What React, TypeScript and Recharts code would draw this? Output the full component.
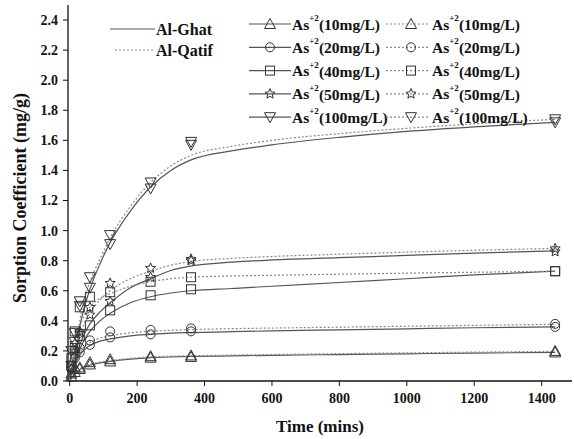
import {
  ComposedChart,
  Line,
  Scatter,
  XAxis,
  YAxis,
  Legend,
} from 'recharts';

// time axis of the fitted curves (mins)
const curveTimes = [0, 10, 20, 30, 45, 60, 90, 120, 180, 240, 300, 360, 480, 600, 800, 1000, 1200, 1440];

// fitted curves, Al-Ghat (solid) and Al-Qatif (dotted)
const ghatCurve10 = [0, 0.03, 0.055, 0.075, 0.095, 0.105, 0.12, 0.13, 0.145, 0.155, 0.16, 0.163, 0.167, 0.171, 0.176, 0.181, 0.186, 0.19];
const qatifCurve10 = [0, 0.035, 0.06, 0.08, 0.1, 0.11, 0.125, 0.135, 0.15, 0.16, 0.165, 0.168, 0.172, 0.176, 0.182, 0.187, 0.192, 0.197];
const ghatCurve20 = [0, 0.07, 0.13, 0.17, 0.21, 0.235, 0.265, 0.28, 0.3, 0.31, 0.318, 0.322, 0.328, 0.333, 0.34, 0.347, 0.354, 0.36];
const qatifCurve20 = [0, 0.08, 0.15, 0.19, 0.23, 0.255, 0.285, 0.3, 0.32, 0.33, 0.337, 0.342, 0.348, 0.352, 0.358, 0.364, 0.37, 0.377];
const ghatCurve40 = [0, 0.08, 0.15, 0.21, 0.28, 0.33, 0.4, 0.45, 0.52, 0.56, 0.585, 0.6, 0.615, 0.63, 0.655, 0.68, 0.705, 0.73];
const qatifCurve40 = [0, 0.15, 0.27, 0.36, 0.44, 0.49, 0.55, 0.58, 0.63, 0.66, 0.68, 0.69, 0.698, 0.703, 0.71, 0.717, 0.723, 0.73];
const ghatCurve50 = [0, 0.09, 0.17, 0.24, 0.32, 0.38, 0.46, 0.52, 0.62, 0.68, 0.735, 0.765, 0.79, 0.805, 0.82, 0.835, 0.85, 0.865];
const qatifCurve50 = [0, 0.12, 0.22, 0.3, 0.39, 0.45, 0.54, 0.6, 0.68, 0.73, 0.77, 0.795, 0.815, 0.828, 0.843, 0.857, 0.869, 0.882];
const ghatCurve100 = [0, 0.1, 0.2, 0.36, 0.5, 0.61, 0.78, 0.92, 1.13, 1.29, 1.4, 1.47, 1.53, 1.57, 1.62, 1.66, 1.69, 1.72];
const qatifCurve100 = [0, 0.11, 0.22, 0.4, 0.55, 0.66, 0.81, 0.95, 1.16, 1.32, 1.43, 1.5, 1.56, 1.6, 1.645, 1.68, 1.71, 1.74];

// measured points
const pointTimes = [5, 15, 30, 60, 120, 240, 360, 1440];
const ghatPoints10 = [0.03, 0.06, 0.08, 0.11, 0.13, 0.155, 0.16, 0.19];
const qatifPoints10 = [0.05, 0.09, 0.09, 0.125, 0.145, 0.165, 0.17, 0.2];
const ghatPoints20 = [0.08, 0.15, 0.19, 0.24, 0.29, 0.31, 0.33, 0.36];
const qatifPoints20 = [0.1, 0.18, 0.22, 0.27, 0.33, 0.34, 0.35, 0.38];
const ghatPoints40 = [0.1, 0.22, 0.3, 0.37, 0.47, 0.57, 0.61, 0.73];
const qatifPoints40 = [0.15, 0.33, 0.49, 0.56, 0.59, 0.66, 0.69, 0.73];
const ghatPoints50 = [0.08, 0.2, 0.32, 0.44, 0.53, 0.69, 0.8, 0.86];
const qatifPoints50 = [0.12, 0.25, 0.33, 0.49, 0.65, 0.75, 0.81, 0.88];
const ghatPoints100 = [0.1, 0.26, 0.5, 0.62, 0.91, 1.28, 1.57, 1.72];
const qatifPoints100 = [0.2, 0.32, 0.53, 0.69, 0.97, 1.32, 1.59, 1.74];

const concentrations = ['10', '20', '40', '50', '100'];
const markerKinds = ['triUp', 'circle', 'square', 'star', 'triDown'];
const siteNames = ['Al-Ghat', 'Al-Qatif'];

const yTicks = [0, 0.2, 0.4, 0.6, 0.8, 1.0, 1.2, 1.4, 1.6, 1.8, 2.0, 2.2, 2.4];
const yMinorTicks = [0.1, 0.3, 0.5, 0.7, 0.9, 1.1, 1.3, 1.5, 1.7, 1.9, 2.1, 2.3];
const xTicks = [0, 200, 400, 600, 800, 1000, 1200, 1400];
const xMinorTicks = [100, 300, 500, 700, 900, 1100, 1300];

const ghatCurves = [ghatCurve10, ghatCurve20, ghatCurve40, ghatCurve50, ghatCurve100];
const qatifCurves = [qatifCurve10, qatifCurve20, qatifCurve40, qatifCurve50, qatifCurve100];
const ghatPoints = [ghatPoints10, ghatPoints20, ghatPoints40, ghatPoints50, ghatPoints100];
const qatifPoints = [qatifPoints10, qatifPoints20, qatifPoints40, qatifPoints50, qatifPoints100];

const curveRows = curveTimes.map((t, i) => {
  const row: Record<string, number> = { t };
  concentrations.forEach((c, k) => {
    row['g' + c] = ghatCurves[k][i];
    row['q' + c] = qatifCurves[k][i];
  });
  return row;
});

const toPoints = (vals: number[]) => pointTimes.map((t, i) => ({ t, v: vals[i] }));

const FONT = '"Liberation Serif", "Times New Roman", serif';
const INK = '#333';
const SOLID = '#555';
const DOTTED = '#888';

function Marker({ kind, cx, cy, s = 4.5 }: { kind: string; cx: number; cy: number; s?: number }) {
  const common = { fill: 'none', stroke: INK, strokeWidth: 1 };
  if (kind === 'circle') return <circle cx={cx} cy={cy} r={s} {...common} />;
  if (kind === 'square') return <rect x={cx - s} y={cy - s} width={s * 2} height={s * 2} {...common} />;
  if (kind === 'triUp')
    return <path d={`M${cx},${cy - s - 1}L${cx + s + 1},${cy + s}L${cx - s - 1},${cy + s}Z`} {...common} />;
  if (kind === 'triDown')
    return <path d={`M${cx},${cy + s + 1}L${cx + s + 1},${cy - s}L${cx - s - 1},${cy - s}Z`} {...common} />;
  // star
  let d = '';
  for (let i = 0; i < 10; i++) {
    const r = i % 2 === 0 ? s + 0.8 : (s + 0.8) * 0.45;
    const a = -Math.PI / 2 + (i * Math.PI) / 5;
    d += (i === 0 ? 'M' : 'L') + (cx + r * Math.cos(a)).toFixed(2) + ',' + (cy + r * Math.sin(a)).toFixed(2);
  }
  return <path d={d + 'Z'} {...common} />;
}

function AsLabel({ x, y, c }: { x: number; y: number; c: string }) {
  return (
    <text x={x} y={y} fontFamily={FONT} fontWeight="bold" fontSize={15.5} fill="#111" dominantBaseline="central">
      As
      <tspan dy={-6} fontSize={9}>+2</tspan>
      <tspan dy={6}>({c}mg/L)</tspan>
    </text>
  );
}

function LegendBox() {
  const rowY = (i: number) => 24 + i * 23.3;
  return (
    <svg width={574} height={135} style={{ display: 'block', pointerEvents: 'none' }}>
      <line x1={110} x2={155} y1={29} y2={29} stroke={SOLID} strokeWidth={1.2} />
      <text x={156} y={29} fontFamily={FONT} fontWeight="bold" fontSize={16} fill="#111" dominantBaseline="central">
        {siteNames[0]}
      </text>
      <line x1={115} x2={155} y1={50} y2={50} stroke={DOTTED} strokeWidth={1.2} strokeDasharray="2 2" />
      <text x={156} y={50} fontFamily={FONT} fontWeight="bold" fontSize={16} fill="#111" dominantBaseline="central">
        {siteNames[1]}
      </text>
      {concentrations.map((c, i) => (
        <g key={c}>
          <line x1={249} x2={291} y1={rowY(i)} y2={rowY(i)} stroke={SOLID} strokeWidth={1.2} />
          <Marker kind={markerKinds[i]} cx={270} cy={rowY(i)} />
          <AsLabel x={292} y={rowY(i)} c={c} />
          <line x1={386} x2={430} y1={rowY(i)} y2={rowY(i)} stroke={DOTTED} strokeWidth={1.2} strokeDasharray="2 2" />
          <Marker kind={markerKinds[i]} cx={411} cy={rowY(i)} />
          <AsLabel x={432} y={rowY(i)} c={c} />
        </g>
      ))}
    </svg>
  );
}

const tickStyle = { fontFamily: FONT, fontWeight: 'bold', fontSize: 14, fill: '#111' };

export default function App() {
  return (
    <div style={{ position: 'absolute', left: 0, top: 0, background: 'white' }}>
      <ComposedChart
        width={574}
        height={439}
        data={curveRows}
        margin={{ top: 5, right: 2, bottom: 0, left: 23 }}
      >
        <XAxis
          dataKey="t"
          type="number"
          domain={[-5, 1490]}
          ticks={xTicks}
          tickSize={5}
          tickMargin={7}
          tick={tickStyle}
          axisLine={{ stroke: '#111', strokeWidth: 1.3 }}
          tickLine={{ stroke: '#111' }}
          height={58}
          label={(p: any) => {
            const vb = p.viewBox;
            return (
              <text
                x={vb.x + vb.width / 2}
                y={426}
                textAnchor="middle"
                dominantBaseline="central"
                fontFamily={FONT}
                fontWeight="bold"
                fontSize={17}
                fill="#111"
              >
                Time (mins)
              </text>
            );
          }}
        />
        <XAxis
          xAxisId="minor"
          dataKey="t"
          type="number"
          domain={[-5, 1490]}
          ticks={xMinorTicks}
          tickSize={3}
          tick={false}
          axisLine={false}
          tickLine={{ stroke: '#111' }}
          height={0}
        />
        <XAxis
          xAxisId="top"
          orientation="top"
          type="number"
          domain={[-5, 1490]}
          tick={false}
          tickLine={false}
          axisLine={{ stroke: '#111', strokeWidth: 1.3 }}
          height={0}
        />
        <YAxis
          type="number"
          domain={[0, 2.5]}
          ticks={yTicks}
          tickFormatter={(v: number) => v.toFixed(1)}
          tickSize={5}
          tickMargin={5}
          tick={tickStyle}
          width={45}
          axisLine={{ stroke: '#111', strokeWidth: 1.3 }}
          tickLine={{ stroke: '#111' }}
          label={(p: any) => {
            const vb = p.viewBox;
            const cy = vb.y + vb.height / 2 + 5;
            return (
              <text
                x={20}
                y={cy}
                transform={`rotate(-90, 20, ${cy})`}
                textAnchor="middle"
                dominantBaseline="central"
                fontFamily={FONT}
                fontWeight="bold"
                fontSize={18}
                fill="#111"
              >
                Sorption Coefficient (mg/g)
              </text>
            );
          }}
        />
        <YAxis
          yAxisId="minor"
          type="number"
          domain={[0, 2.5]}
          ticks={yMinorTicks}
          tickSize={3}
          tick={false}
          axisLine={false}
          tickLine={{ stroke: '#111' }}
          width={0}
        />
        <YAxis
          yAxisId="right"
          orientation="right"
          type="number"
          domain={[0, 2.5]}
          tick={false}
          tickLine={false}
          axisLine={{ stroke: '#111', strokeWidth: 1.3 }}
          width={0}
        />
        {concentrations.map((c) => (
          <Line
            key={'g' + c}
            type="monotone"
            dataKey={'g' + c}
            stroke={SOLID}
            strokeWidth={1.2}
            dot={false}
            isAnimationActive={false}
          />
        ))}
        {concentrations.map((c) => (
          <Line
            key={'q' + c}
            type="monotone"
            dataKey={'q' + c}
            stroke={DOTTED}
            strokeWidth={1.2}
            strokeDasharray="2 2"
            dot={false}
            isAnimationActive={false}
          />
        ))}
        {concentrations.map((c, k) => (
          <Scatter
            key={'gp' + c}
            data={toPoints(ghatPoints[k])}
            dataKey="v"
            isAnimationActive={false}
            shape={(p: any) => <Marker kind={markerKinds[k]} cx={p.cx} cy={p.cy} />}
          />
        ))}
        {concentrations.map((c, k) => (
          <Scatter
            key={'qp' + c}
            data={toPoints(qatifPoints[k])}
            dataKey="v"
            isAnimationActive={false}
            shape={(p: any) => <Marker kind={markerKinds[k]} cx={p.cx} cy={p.cy} />}
          />
        ))}
        <Legend
          layout="vertical"
          align="center"
          verticalAlign="middle"
          wrapperStyle={{ left: 0, top: 0, width: 574, height: 135 }}
          content={() => <LegendBox />}
        />
      </ComposedChart>
    </div>
  );
}
